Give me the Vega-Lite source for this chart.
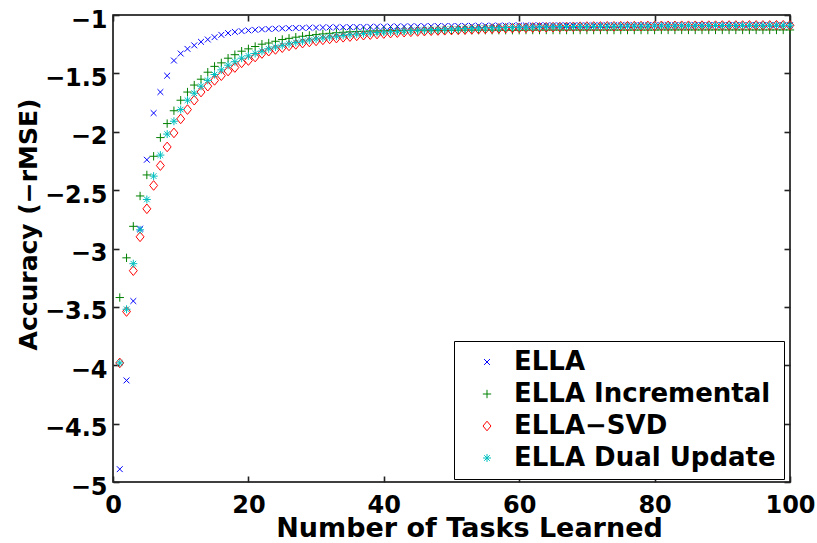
{
"$schema": "https://vega.github.io/schema/vega-lite/v6.json",
"width": 677, "height": 467,
"autosize": {"type": "none"},
"padding": {"left": 113, "top": 15, "right": 27, "bottom": 61},
"background": "white",
"config": {
  "view": {"stroke": "#000", "strokeWidth": 1.5},
  "font": "DejaVu Sans",
  "axis": {"labelFont": "DejaVu Sans", "labelFontWeight": "bold", "labelFontSize": 24, "labelColor": "#000",
           "titleFont": "DejaVu Sans", "titleFontWeight": "bold", "titleFontSize": 25, "titleColor": "#000",
           "grid": false, "domain": false, "ticks": true, "tickColor": "#222", "tickOpacity": 1, "tickSize": 6, "tickWidth": 1.6,
           "offset": -6, "labelOverlap": false, "zindex": 1},
  "legend": {"orient": "none", "legendX": 341, "legendY": 326, "fillColor": "#fff", "strokeColor": "#000", "strokeWidth": 1,
             "padding": 8, "labelFont": "DejaVu Sans", "labelFontWeight": "bold", "labelFontSize": 26, "labelColor": "#000", "labelLimit": 500,
             "symbolSize": 70, "symbolStrokeWidth": 1, "rowPadding": 6, "labelOffset": 14, "symbolOffset": 12, "titlePadding": 0, "zindex": 2}
},
"data": {"values": [
{"task":1,"method":"ELLA","acc":-4.89},{"task":2,"method":"ELLA","acc":-4.13},{"task":3,"method":"ELLA","acc":-3.45},{"task":4,"method":"ELLA","acc":-2.83},{"task":5,"method":"ELLA","acc":-2.24},
{"task":6,"method":"ELLA","acc":-1.84},{"task":7,"method":"ELLA","acc":-1.66},{"task":8,"method":"ELLA","acc":-1.52},{"task":9,"method":"ELLA","acc":-1.39},{"task":10,"method":"ELLA","acc":-1.33},
{"task":11,"method":"ELLA","acc":-1.29},{"task":12,"method":"ELLA","acc":-1.26},{"task":13,"method":"ELLA","acc":-1.23},{"task":14,"method":"ELLA","acc":-1.21},{"task":15,"method":"ELLA","acc":-1.19},
{"task":16,"method":"ELLA","acc":-1.17},{"task":17,"method":"ELLA","acc":-1.155},{"task":18,"method":"ELLA","acc":-1.145},{"task":19,"method":"ELLA","acc":-1.138},{"task":20,"method":"ELLA","acc":-1.132},
{"task":21,"method":"ELLA","acc":-1.127},{"task":22,"method":"ELLA","acc":-1.123},{"task":23,"method":"ELLA","acc":-1.12},{"task":24,"method":"ELLA","acc":-1.117},{"task":25,"method":"ELLA","acc":-1.115},
{"task":26,"method":"ELLA","acc":-1.113},{"task":27,"method":"ELLA","acc":-1.111},{"task":28,"method":"ELLA","acc":-1.11},{"task":29,"method":"ELLA","acc":-1.109},{"task":30,"method":"ELLA","acc":-1.108},
{"task":31,"method":"ELLA","acc":-1.107},{"task":32,"method":"ELLA","acc":-1.106},{"task":33,"method":"ELLA","acc":-1.105},{"task":34,"method":"ELLA","acc":-1.105},{"task":35,"method":"ELLA","acc":-1.104},
{"task":36,"method":"ELLA","acc":-1.103},{"task":37,"method":"ELLA","acc":-1.102},{"task":38,"method":"ELLA","acc":-1.101},{"task":39,"method":"ELLA","acc":-1.1},{"task":40,"method":"ELLA","acc":-1.1},
{"task":41,"method":"ELLA","acc":-1.099},{"task":42,"method":"ELLA","acc":-1.098},{"task":43,"method":"ELLA","acc":-1.098},{"task":44,"method":"ELLA","acc":-1.097},{"task":45,"method":"ELLA","acc":-1.097},
{"task":46,"method":"ELLA","acc":-1.096},{"task":47,"method":"ELLA","acc":-1.096},{"task":48,"method":"ELLA","acc":-1.095},{"task":49,"method":"ELLA","acc":-1.095},{"task":50,"method":"ELLA","acc":-1.094},
{"task":51,"method":"ELLA","acc":-1.094},{"task":52,"method":"ELLA","acc":-1.093},{"task":53,"method":"ELLA","acc":-1.093},{"task":54,"method":"ELLA","acc":-1.092},{"task":55,"method":"ELLA","acc":-1.092},
{"task":56,"method":"ELLA","acc":-1.091},{"task":57,"method":"ELLA","acc":-1.091},{"task":58,"method":"ELLA","acc":-1.091},{"task":59,"method":"ELLA","acc":-1.09},{"task":60,"method":"ELLA","acc":-1.09},
{"task":61,"method":"ELLA","acc":-1.09},{"task":62,"method":"ELLA","acc":-1.09},{"task":63,"method":"ELLA","acc":-1.089},{"task":64,"method":"ELLA","acc":-1.089},{"task":65,"method":"ELLA","acc":-1.089},
{"task":66,"method":"ELLA","acc":-1.089},{"task":67,"method":"ELLA","acc":-1.089},{"task":68,"method":"ELLA","acc":-1.089},{"task":69,"method":"ELLA","acc":-1.089},{"task":70,"method":"ELLA","acc":-1.089},
{"task":71,"method":"ELLA","acc":-1.088},{"task":72,"method":"ELLA","acc":-1.088},{"task":73,"method":"ELLA","acc":-1.088},{"task":74,"method":"ELLA","acc":-1.088},{"task":75,"method":"ELLA","acc":-1.088},
{"task":76,"method":"ELLA","acc":-1.088},{"task":77,"method":"ELLA","acc":-1.088},{"task":78,"method":"ELLA","acc":-1.088},{"task":79,"method":"ELLA","acc":-1.088},{"task":80,"method":"ELLA","acc":-1.088},
{"task":81,"method":"ELLA","acc":-1.088},{"task":82,"method":"ELLA","acc":-1.088},{"task":83,"method":"ELLA","acc":-1.088},{"task":84,"method":"ELLA","acc":-1.088},{"task":85,"method":"ELLA","acc":-1.088},
{"task":86,"method":"ELLA","acc":-1.087},{"task":87,"method":"ELLA","acc":-1.087},{"task":88,"method":"ELLA","acc":-1.087},{"task":89,"method":"ELLA","acc":-1.087},{"task":90,"method":"ELLA","acc":-1.087},
{"task":91,"method":"ELLA","acc":-1.087},{"task":92,"method":"ELLA","acc":-1.087},{"task":93,"method":"ELLA","acc":-1.087},{"task":94,"method":"ELLA","acc":-1.087},{"task":95,"method":"ELLA","acc":-1.087},
{"task":96,"method":"ELLA","acc":-1.087},{"task":97,"method":"ELLA","acc":-1.087},{"task":98,"method":"ELLA","acc":-1.087},{"task":99,"method":"ELLA","acc":-1.087},{"task":100,"method":"ELLA","acc":-1.087},
{"task":1,"method":"ELLA Incremental","acc":-3.42},{"task":2,"method":"ELLA Incremental","acc":-3.08},{"task":3,"method":"ELLA Incremental","acc":-2.81},{"task":4,"method":"ELLA Incremental","acc":-2.55},{"task":5,"method":"ELLA Incremental","acc":-2.37},
{"task":6,"method":"ELLA Incremental","acc":-2.21},{"task":7,"method":"ELLA Incremental","acc":-2.05},{"task":8,"method":"ELLA Incremental","acc":-1.93},{"task":9,"method":"ELLA Incremental","acc":-1.82},{"task":10,"method":"ELLA Incremental","acc":-1.73},
{"task":11,"method":"ELLA Incremental","acc":-1.66},{"task":12,"method":"ELLA Incremental","acc":-1.6},{"task":13,"method":"ELLA Incremental","acc":-1.55},{"task":14,"method":"ELLA Incremental","acc":-1.49},{"task":15,"method":"ELLA Incremental","acc":-1.44},
{"task":16,"method":"ELLA Incremental","acc":-1.41},{"task":17,"method":"ELLA Incremental","acc":-1.37},{"task":18,"method":"ELLA Incremental","acc":-1.34},{"task":19,"method":"ELLA Incremental","acc":-1.31},{"task":20,"method":"ELLA Incremental","acc":-1.29},
{"task":21,"method":"ELLA Incremental","acc":-1.27},{"task":22,"method":"ELLA Incremental","acc":-1.25},{"task":23,"method":"ELLA Incremental","acc":-1.24},{"task":24,"method":"ELLA Incremental","acc":-1.225},{"task":25,"method":"ELLA Incremental","acc":-1.21},
{"task":26,"method":"ELLA Incremental","acc":-1.2},{"task":27,"method":"ELLA Incremental","acc":-1.19},{"task":28,"method":"ELLA Incremental","acc":-1.182},{"task":29,"method":"ELLA Incremental","acc":-1.175},{"task":30,"method":"ELLA Incremental","acc":-1.168},
{"task":31,"method":"ELLA Incremental","acc":-1.162},{"task":32,"method":"ELLA Incremental","acc":-1.157},{"task":33,"method":"ELLA Incremental","acc":-1.152},{"task":34,"method":"ELLA Incremental","acc":-1.148},{"task":35,"method":"ELLA Incremental","acc":-1.144},
{"task":36,"method":"ELLA Incremental","acc":-1.141},{"task":37,"method":"ELLA Incremental","acc":-1.139},{"task":38,"method":"ELLA Incremental","acc":-1.137},{"task":39,"method":"ELLA Incremental","acc":-1.136},{"task":40,"method":"ELLA Incremental","acc":-1.135},
{"task":41,"method":"ELLA Incremental","acc":-1.134},{"task":42,"method":"ELLA Incremental","acc":-1.133},{"task":43,"method":"ELLA Incremental","acc":-1.133},{"task":44,"method":"ELLA Incremental","acc":-1.132},{"task":45,"method":"ELLA Incremental","acc":-1.132},
{"task":46,"method":"ELLA Incremental","acc":-1.131},{"task":47,"method":"ELLA Incremental","acc":-1.131},{"task":48,"method":"ELLA Incremental","acc":-1.131},{"task":49,"method":"ELLA Incremental","acc":-1.131},{"task":50,"method":"ELLA Incremental","acc":-1.131},
{"task":51,"method":"ELLA Incremental","acc":-1.13},{"task":52,"method":"ELLA Incremental","acc":-1.13},{"task":53,"method":"ELLA Incremental","acc":-1.13},{"task":54,"method":"ELLA Incremental","acc":-1.13},{"task":55,"method":"ELLA Incremental","acc":-1.13},
{"task":56,"method":"ELLA Incremental","acc":-1.13},{"task":57,"method":"ELLA Incremental","acc":-1.13},{"task":58,"method":"ELLA Incremental","acc":-1.13},{"task":59,"method":"ELLA Incremental","acc":-1.13},{"task":60,"method":"ELLA Incremental","acc":-1.13},
{"task":61,"method":"ELLA Incremental","acc":-1.129},{"task":62,"method":"ELLA Incremental","acc":-1.129},{"task":63,"method":"ELLA Incremental","acc":-1.129},{"task":64,"method":"ELLA Incremental","acc":-1.129},{"task":65,"method":"ELLA Incremental","acc":-1.129},
{"task":66,"method":"ELLA Incremental","acc":-1.129},{"task":67,"method":"ELLA Incremental","acc":-1.129},{"task":68,"method":"ELLA Incremental","acc":-1.129},{"task":69,"method":"ELLA Incremental","acc":-1.129},{"task":70,"method":"ELLA Incremental","acc":-1.129},
{"task":71,"method":"ELLA Incremental","acc":-1.129},{"task":72,"method":"ELLA Incremental","acc":-1.129},{"task":73,"method":"ELLA Incremental","acc":-1.129},{"task":74,"method":"ELLA Incremental","acc":-1.129},{"task":75,"method":"ELLA Incremental","acc":-1.129},
{"task":76,"method":"ELLA Incremental","acc":-1.129},{"task":77,"method":"ELLA Incremental","acc":-1.129},{"task":78,"method":"ELLA Incremental","acc":-1.129},{"task":79,"method":"ELLA Incremental","acc":-1.129},{"task":80,"method":"ELLA Incremental","acc":-1.129},
{"task":81,"method":"ELLA Incremental","acc":-1.128},{"task":82,"method":"ELLA Incremental","acc":-1.128},{"task":83,"method":"ELLA Incremental","acc":-1.128},{"task":84,"method":"ELLA Incremental","acc":-1.128},{"task":85,"method":"ELLA Incremental","acc":-1.128},
{"task":86,"method":"ELLA Incremental","acc":-1.128},{"task":87,"method":"ELLA Incremental","acc":-1.128},{"task":88,"method":"ELLA Incremental","acc":-1.128},{"task":89,"method":"ELLA Incremental","acc":-1.128},{"task":90,"method":"ELLA Incremental","acc":-1.128},
{"task":91,"method":"ELLA Incremental","acc":-1.128},{"task":92,"method":"ELLA Incremental","acc":-1.128},{"task":93,"method":"ELLA Incremental","acc":-1.128},{"task":94,"method":"ELLA Incremental","acc":-1.128},{"task":95,"method":"ELLA Incremental","acc":-1.128},
{"task":96,"method":"ELLA Incremental","acc":-1.128},{"task":97,"method":"ELLA Incremental","acc":-1.128},{"task":98,"method":"ELLA Incremental","acc":-1.128},{"task":99,"method":"ELLA Incremental","acc":-1.128},{"task":100,"method":"ELLA Incremental","acc":-1.128},
{"task":1,"method":"ELLA−SVD","acc":-3.98},{"task":2,"method":"ELLA−SVD","acc":-3.54},{"task":3,"method":"ELLA−SVD","acc":-3.19},{"task":4,"method":"ELLA−SVD","acc":-2.9},{"task":5,"method":"ELLA−SVD","acc":-2.66},
{"task":6,"method":"ELLA−SVD","acc":-2.46},{"task":7,"method":"ELLA−SVD","acc":-2.29},{"task":8,"method":"ELLA−SVD","acc":-2.13},{"task":9,"method":"ELLA−SVD","acc":-2.01},{"task":10,"method":"ELLA−SVD","acc":-1.89},
{"task":11,"method":"ELLA−SVD","acc":-1.81},{"task":12,"method":"ELLA−SVD","acc":-1.73},{"task":13,"method":"ELLA−SVD","acc":-1.66},{"task":14,"method":"ELLA−SVD","acc":-1.61},{"task":15,"method":"ELLA−SVD","acc":-1.56},
{"task":16,"method":"ELLA−SVD","acc":-1.52},{"task":17,"method":"ELLA−SVD","acc":-1.48},{"task":18,"method":"ELLA−SVD","acc":-1.45},{"task":19,"method":"ELLA−SVD","acc":-1.41},{"task":20,"method":"ELLA−SVD","acc":-1.39},
{"task":21,"method":"ELLA−SVD","acc":-1.36},{"task":22,"method":"ELLA−SVD","acc":-1.33},{"task":23,"method":"ELLA−SVD","acc":-1.31},{"task":24,"method":"ELLA−SVD","acc":-1.295},{"task":25,"method":"ELLA−SVD","acc":-1.28},
{"task":26,"method":"ELLA−SVD","acc":-1.265},{"task":27,"method":"ELLA−SVD","acc":-1.252},{"task":28,"method":"ELLA−SVD","acc":-1.241},{"task":29,"method":"ELLA−SVD","acc":-1.231},{"task":30,"method":"ELLA−SVD","acc":-1.222},
{"task":31,"method":"ELLA−SVD","acc":-1.213},{"task":32,"method":"ELLA−SVD","acc":-1.205},{"task":33,"method":"ELLA−SVD","acc":-1.198},{"task":34,"method":"ELLA−SVD","acc":-1.191},{"task":35,"method":"ELLA−SVD","acc":-1.185},
{"task":36,"method":"ELLA−SVD","acc":-1.179},{"task":37,"method":"ELLA−SVD","acc":-1.173},{"task":38,"method":"ELLA−SVD","acc":-1.168},{"task":39,"method":"ELLA−SVD","acc":-1.163},{"task":40,"method":"ELLA−SVD","acc":-1.159},
{"task":41,"method":"ELLA−SVD","acc":-1.155},{"task":42,"method":"ELLA−SVD","acc":-1.151},{"task":43,"method":"ELLA−SVD","acc":-1.147},{"task":44,"method":"ELLA−SVD","acc":-1.144},{"task":45,"method":"ELLA−SVD","acc":-1.141},
{"task":46,"method":"ELLA−SVD","acc":-1.138},{"task":47,"method":"ELLA−SVD","acc":-1.135},{"task":48,"method":"ELLA−SVD","acc":-1.133},{"task":49,"method":"ELLA−SVD","acc":-1.131},{"task":50,"method":"ELLA−SVD","acc":-1.129},
{"task":51,"method":"ELLA−SVD","acc":-1.127},{"task":52,"method":"ELLA−SVD","acc":-1.125},{"task":53,"method":"ELLA−SVD","acc":-1.123},{"task":54,"method":"ELLA−SVD","acc":-1.121},{"task":55,"method":"ELLA−SVD","acc":-1.119},
{"task":56,"method":"ELLA−SVD","acc":-1.117},{"task":57,"method":"ELLA−SVD","acc":-1.115},{"task":58,"method":"ELLA−SVD","acc":-1.113},{"task":59,"method":"ELLA−SVD","acc":-1.112},{"task":60,"method":"ELLA−SVD","acc":-1.11},
{"task":61,"method":"ELLA−SVD","acc":-1.109},{"task":62,"method":"ELLA−SVD","acc":-1.107},{"task":63,"method":"ELLA−SVD","acc":-1.106},{"task":64,"method":"ELLA−SVD","acc":-1.105},{"task":65,"method":"ELLA−SVD","acc":-1.104},
{"task":66,"method":"ELLA−SVD","acc":-1.103},{"task":67,"method":"ELLA−SVD","acc":-1.102},{"task":68,"method":"ELLA−SVD","acc":-1.101},{"task":69,"method":"ELLA−SVD","acc":-1.1},{"task":70,"method":"ELLA−SVD","acc":-1.099},
{"task":71,"method":"ELLA−SVD","acc":-1.098},{"task":72,"method":"ELLA−SVD","acc":-1.098},{"task":73,"method":"ELLA−SVD","acc":-1.097},{"task":74,"method":"ELLA−SVD","acc":-1.097},{"task":75,"method":"ELLA−SVD","acc":-1.096},
{"task":76,"method":"ELLA−SVD","acc":-1.096},{"task":77,"method":"ELLA−SVD","acc":-1.095},{"task":78,"method":"ELLA−SVD","acc":-1.095},{"task":79,"method":"ELLA−SVD","acc":-1.094},{"task":80,"method":"ELLA−SVD","acc":-1.094},
{"task":81,"method":"ELLA−SVD","acc":-1.093},{"task":82,"method":"ELLA−SVD","acc":-1.093},{"task":83,"method":"ELLA−SVD","acc":-1.093},{"task":84,"method":"ELLA−SVD","acc":-1.092},{"task":85,"method":"ELLA−SVD","acc":-1.092},
{"task":86,"method":"ELLA−SVD","acc":-1.092},{"task":87,"method":"ELLA−SVD","acc":-1.091},{"task":88,"method":"ELLA−SVD","acc":-1.091},{"task":89,"method":"ELLA−SVD","acc":-1.091},{"task":90,"method":"ELLA−SVD","acc":-1.09},
{"task":91,"method":"ELLA−SVD","acc":-1.09},{"task":92,"method":"ELLA−SVD","acc":-1.09},{"task":93,"method":"ELLA−SVD","acc":-1.09},{"task":94,"method":"ELLA−SVD","acc":-1.089},{"task":95,"method":"ELLA−SVD","acc":-1.089},
{"task":96,"method":"ELLA−SVD","acc":-1.089},{"task":97,"method":"ELLA−SVD","acc":-1.089},{"task":98,"method":"ELLA−SVD","acc":-1.088},{"task":99,"method":"ELLA−SVD","acc":-1.088},{"task":100,"method":"ELLA−SVD","acc":-1.088},
{"task":1,"method":"ELLA Dual Update","acc":-3.98},{"task":2,"method":"ELLA Dual Update","acc":-3.52},{"task":3,"method":"ELLA Dual Update","acc":-3.13},{"task":4,"method":"ELLA Dual Update","acc":-2.84},{"task":5,"method":"ELLA Dual Update","acc":-2.58},
{"task":6,"method":"ELLA Dual Update","acc":-2.38},{"task":7,"method":"ELLA Dual Update","acc":-2.2},{"task":8,"method":"ELLA Dual Update","acc":-2.02},{"task":9,"method":"ELLA Dual Update","acc":-1.91},{"task":10,"method":"ELLA Dual Update","acc":-1.81},
{"task":11,"method":"ELLA Dual Update","acc":-1.73},{"task":12,"method":"ELLA Dual Update","acc":-1.67},{"task":13,"method":"ELLA Dual Update","acc":-1.61},{"task":14,"method":"ELLA Dual Update","acc":-1.56},{"task":15,"method":"ELLA Dual Update","acc":-1.51},
{"task":16,"method":"ELLA Dual Update","acc":-1.47},{"task":17,"method":"ELLA Dual Update","acc":-1.43},{"task":18,"method":"ELLA Dual Update","acc":-1.4},{"task":19,"method":"ELLA Dual Update","acc":-1.37},{"task":20,"method":"ELLA Dual Update","acc":-1.35},
{"task":21,"method":"ELLA Dual Update","acc":-1.33},{"task":22,"method":"ELLA Dual Update","acc":-1.31},{"task":23,"method":"ELLA Dual Update","acc":-1.29},{"task":24,"method":"ELLA Dual Update","acc":-1.275},{"task":25,"method":"ELLA Dual Update","acc":-1.26},
{"task":26,"method":"ELLA Dual Update","acc":-1.247},{"task":27,"method":"ELLA Dual Update","acc":-1.235},{"task":28,"method":"ELLA Dual Update","acc":-1.224},{"task":29,"method":"ELLA Dual Update","acc":-1.214},{"task":30,"method":"ELLA Dual Update","acc":-1.205},
{"task":31,"method":"ELLA Dual Update","acc":-1.197},{"task":32,"method":"ELLA Dual Update","acc":-1.189},{"task":33,"method":"ELLA Dual Update","acc":-1.182},{"task":34,"method":"ELLA Dual Update","acc":-1.175},{"task":35,"method":"ELLA Dual Update","acc":-1.169},
{"task":36,"method":"ELLA Dual Update","acc":-1.164},{"task":37,"method":"ELLA Dual Update","acc":-1.159},{"task":38,"method":"ELLA Dual Update","acc":-1.154},{"task":39,"method":"ELLA Dual Update","acc":-1.15},{"task":40,"method":"ELLA Dual Update","acc":-1.146},
{"task":41,"method":"ELLA Dual Update","acc":-1.143},{"task":42,"method":"ELLA Dual Update","acc":-1.14},{"task":43,"method":"ELLA Dual Update","acc":-1.137},{"task":44,"method":"ELLA Dual Update","acc":-1.134},{"task":45,"method":"ELLA Dual Update","acc":-1.131},
{"task":46,"method":"ELLA Dual Update","acc":-1.128},{"task":47,"method":"ELLA Dual Update","acc":-1.126},{"task":48,"method":"ELLA Dual Update","acc":-1.124},{"task":49,"method":"ELLA Dual Update","acc":-1.122},{"task":50,"method":"ELLA Dual Update","acc":-1.12},
{"task":51,"method":"ELLA Dual Update","acc":-1.118},{"task":52,"method":"ELLA Dual Update","acc":-1.116},{"task":53,"method":"ELLA Dual Update","acc":-1.114},{"task":54,"method":"ELLA Dual Update","acc":-1.113},{"task":55,"method":"ELLA Dual Update","acc":-1.111},
{"task":56,"method":"ELLA Dual Update","acc":-1.11},{"task":57,"method":"ELLA Dual Update","acc":-1.109},{"task":58,"method":"ELLA Dual Update","acc":-1.107},{"task":59,"method":"ELLA Dual Update","acc":-1.106},{"task":60,"method":"ELLA Dual Update","acc":-1.105},
{"task":61,"method":"ELLA Dual Update","acc":-1.104},{"task":62,"method":"ELLA Dual Update","acc":-1.103},{"task":63,"method":"ELLA Dual Update","acc":-1.102},{"task":64,"method":"ELLA Dual Update","acc":-1.101},{"task":65,"method":"ELLA Dual Update","acc":-1.1},
{"task":66,"method":"ELLA Dual Update","acc":-1.1},{"task":67,"method":"ELLA Dual Update","acc":-1.099},{"task":68,"method":"ELLA Dual Update","acc":-1.099},{"task":69,"method":"ELLA Dual Update","acc":-1.098},{"task":70,"method":"ELLA Dual Update","acc":-1.098},
{"task":71,"method":"ELLA Dual Update","acc":-1.097},{"task":72,"method":"ELLA Dual Update","acc":-1.097},{"task":73,"method":"ELLA Dual Update","acc":-1.096},{"task":74,"method":"ELLA Dual Update","acc":-1.096},{"task":75,"method":"ELLA Dual Update","acc":-1.095},
{"task":76,"method":"ELLA Dual Update","acc":-1.095},{"task":77,"method":"ELLA Dual Update","acc":-1.094},{"task":78,"method":"ELLA Dual Update","acc":-1.094},{"task":79,"method":"ELLA Dual Update","acc":-1.094},{"task":80,"method":"ELLA Dual Update","acc":-1.093},
{"task":81,"method":"ELLA Dual Update","acc":-1.093},{"task":82,"method":"ELLA Dual Update","acc":-1.093},{"task":83,"method":"ELLA Dual Update","acc":-1.092},{"task":84,"method":"ELLA Dual Update","acc":-1.092},{"task":85,"method":"ELLA Dual Update","acc":-1.092},
{"task":86,"method":"ELLA Dual Update","acc":-1.091},{"task":87,"method":"ELLA Dual Update","acc":-1.091},{"task":88,"method":"ELLA Dual Update","acc":-1.091},{"task":89,"method":"ELLA Dual Update","acc":-1.09},{"task":90,"method":"ELLA Dual Update","acc":-1.09},
{"task":91,"method":"ELLA Dual Update","acc":-1.09},{"task":92,"method":"ELLA Dual Update","acc":-1.09},{"task":93,"method":"ELLA Dual Update","acc":-1.089},{"task":94,"method":"ELLA Dual Update","acc":-1.089},{"task":95,"method":"ELLA Dual Update","acc":-1.089},
{"task":96,"method":"ELLA Dual Update","acc":-1.089},{"task":97,"method":"ELLA Dual Update","acc":-1.088},{"task":98,"method":"ELLA Dual Update","acc":-1.088},{"task":99,"method":"ELLA Dual Update","acc":-1.088},{"task":100,"method":"ELLA Dual Update","acc":-1.088}
]},
"layer": [
  {
    "mark": {"type": "point", "filled": false, "strokeWidth": 1, "opacity": 1, "size": 70},
    "encoding": {
      "x": {"field": "task", "type": "quantitative",
            "scale": {"domain": [0, 100], "nice": false, "zero": false},
            "axis": {"values": [0, 20, 40, 60, 80, 100], "title": "Number of Tasks Learned", "labelFlush": false, "labelPadding": 11,
                     "titleX": 356, "titleY": 60, "titleAlign": "center", "titleBaseline": "alphabetic", "titleFontSize": 27}},
      "y": {"field": "acc", "type": "quantitative",
            "scale": {"domain": [-5, -1], "nice": false, "zero": false},
            "axis": {"values": [-5, -4.5, -4, -3.5, -3, -2.5, -2, -1.5, -1], "format": "~g",
                     "title": "Accuracy (−rMSE)",
                     "labelPadding": 6, "labelOffset": 5, "titleX": -83, "titleY": 209, "titleAngle": -90,
                     "titleAlign": "center", "titleBaseline": "alphabetic"}},
      "color": {"field": "method", "type": "nominal",
                "scale": {"domain": ["ELLA", "ELLA Incremental", "ELLA−SVD", "ELLA Dual Update"],
                          "range": ["#0000ff", "#008000", "#ff0000", "#00bfbf"]},
                "legend": {"title": null}},
      "shape": {"field": "method", "type": "nominal",
                "scale": {"domain": ["ELLA", "ELLA Incremental", "ELLA−SVD", "ELLA Dual Update"],
                          "range": ["M-0.7,-0.7L0.7,0.7M-0.7,0.7L0.7,-0.7",
                                    "M-1,0L1,0M0,-1L0,1",
                                    "M0,-1.15L0.95,0L0,1.15L-0.95,0Z",
                                    "M-0.95,0L0.95,0M0,-0.95L0,0.95M-0.67,-0.67L0.67,0.67M-0.67,0.67L0.67,-0.67"]},
                "legend": {"title": null}}
    }
  },
  {
    "mark": {"type": "point", "opacity": 0},
    "encoding": {
      "x": {"field": "task", "type": "quantitative",
            "axis": {"orient": "top", "labels": false, "title": null, "values": [0, 20, 40, 60, 80, 100]}},
      "y": {"field": "acc", "type": "quantitative",
            "axis": {"orient": "right", "labels": false, "title": null, "values": [-5, -4.5, -4, -3.5, -3, -2.5, -2, -1.5, -1]}}
    }
  }
],
"resolve": {"axis": {"x": "independent", "y": "independent"}}
}
